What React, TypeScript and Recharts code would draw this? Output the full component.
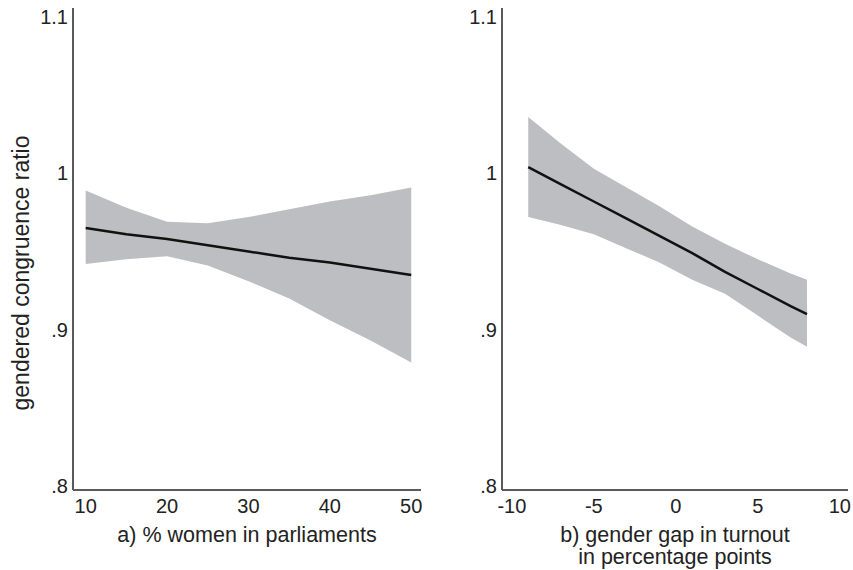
import { ComposedChart, Area, Line, XAxis, YAxis } from "recharts";

// panel a) % women in parliaments
const womenPct = [10, 15, 20, 25, 30, 35, 40, 45, 50];
const womenFit = [0.965, 0.961, 0.958, 0.954, 0.95, 0.946, 0.943, 0.939, 0.935];
const womenLow = [0.942, 0.945, 0.947, 0.941, 0.931, 0.92, 0.906, 0.893, 0.879];
const womenHigh = [0.989, 0.978, 0.969, 0.968, 0.972, 0.977, 0.982, 0.986, 0.991];

// panel b) gender gap in turnout
const gapPts = [-9, -7, -5, -3, -1, 1, 3, 5, 7, 8];
const gapFit = [1.004, 0.993, 0.982, 0.971, 0.96, 0.949, 0.937, 0.926, 0.915, 0.91];
const gapLow = [0.972, 0.967, 0.961, 0.952, 0.943, 0.932, 0.923, 0.909, 0.895, 0.889];
const gapHigh = [1.036, 1.019, 1.003, 0.991, 0.979, 0.966, 0.955, 0.945, 0.936, 0.932];

const yTicks = [0.8, 0.9, 1, 1.1];
const womenTicks = [10, 20, 30, 40, 50];
const gapTicks = [-10, -5, 0, 5, 10];

const FONT = "'Liberation Sans', Arial, sans-serif";
const TEXT = "#222";
const AXIS = "#5a5a5a";
const BAND = "#bdbec1";

const fmtY = (v: number) => String(v).replace(/^0/, "");

function buildRows(xs: number[], fit: number[], lo: number[], hi: number[]) {
  return xs.map((x, i) => ({ x, fit: fit[i], band: [lo[i], hi[i]] }));
}

interface PanelProps {
  rows: { x: number; fit: number; band: number[] }[];
  xDomain: [number, number];
  xTicks: number[];
  width: number;
  left: number;
  right: number;
}

function Panel({ rows, xDomain, xTicks, width, left, right }: PanelProps) {
  const tick = { fontSize: 20, fill: TEXT, fontFamily: FONT };
  return (
    <ComposedChart
      width={width}
      height={570}
      data={rows}
      margin={{ top: 8, right: right, left: left, bottom: 0 }}
    >
      <XAxis
        dataKey="x"
        type="number"
        domain={xDomain}
        ticks={xTicks}
        allowDataOverflow
        height={80}
        tickLine={false}
        tickSize={4}
        tickMargin={5}
        stroke={AXIS}
        strokeWidth={2}
        tick={tick}
      />
      <YAxis
        type="number"
        domain={[0.7974, 1.1058]}
        ticks={yTicks}
        allowDataOverflow
        width={40}
        tickLine={false}
        tickSize={3}
        tickMargin={2}
        tickFormatter={fmtY}
        stroke={AXIS}
        strokeWidth={2}
        tick={tick}
      />
      <Area
        type="linear"
        dataKey="band"
        stroke="none"
        fill={BAND}
        fillOpacity={1}
        isAnimationActive={false}
      />
      <Line
        type="linear"
        dataKey="fit"
        stroke="#111"
        strokeWidth={2.5}
        dot={false}
        isAnimationActive={false}
      />
    </ComposedChart>
  );
}

const labelStyle: React.CSSProperties = {
  position: "absolute",
  fontFamily: FONT,
  fontSize: 21.5,
  color: TEXT,
  whiteSpace: "nowrap",
  lineHeight: "22px",
  textAlign: "center",
};

export default function App() {
  const rowsA = buildRows(womenPct, womenFit, womenLow, womenHigh);
  const rowsB = buildRows(gapPts, gapFit, gapLow, gapHigh);
  return (
    <div
      style={{
        position: "absolute",
        left: 0,
        top: 0,
        width: 853,
        height: 570,
        background: "#fff",
        overflow: "hidden",
      }}
    >
      <div style={{ position: "absolute", left: 0, top: 0 }}>
        <Panel rows={rowsA} xDomain={[8.44, 51.2]} xTicks={womenTicks} width={430} left={33} right={9} />
      </div>
      <div style={{ position: "absolute", left: 430, top: 0 }}>
        <Panel rows={rowsB} xDomain={[-10.6, 10.5]} xTicks={gapTicks} width={423} left={32} right={5} />
      </div>
      <div
        style={{
          ...labelStyle,
          fontSize: 23,
          left: 21,
          top: 273,
          transform: "translate(-50%, -50%) rotate(-90deg)",
        }}
      >
        gendered congruence ratio
      </div>
      <div style={{ ...labelStyle, left: 247, top: 524, transform: "translateX(-50%)" }}>
        a) % women in parliaments
      </div>
      <div style={{ ...labelStyle, left: 675, top: 524, transform: "translateX(-50%)" }}>
        b) gender gap in turnout
        <br />
        in percentage points
      </div>
    </div>
  );
}
